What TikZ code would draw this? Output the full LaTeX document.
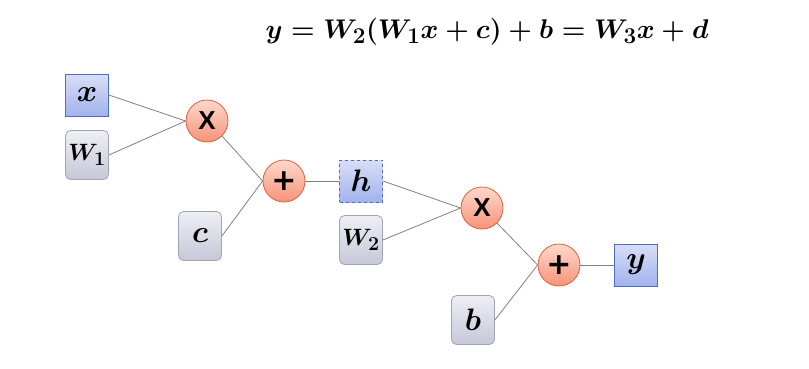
\documentclass[tikz,border=0pt]{standalone}
\usepackage{amsmath}
\usepackage{graphicx}
\usepackage{fontspec}
\newfontfamily\opfont{Liberation Sans}
\newfontfamily\plusfont{DejaVu Sans}
\definecolor{bluetop}{HTML}{D8DEF6}
\definecolor{bluebot}{HTML}{A2B3EC}
\definecolor{blueedge}{HTML}{4A6EC4}
\definecolor{greytop}{HTML}{EEEEF4}
\definecolor{greybot}{HTML}{C6C8D8}
\definecolor{greyedge}{HTML}{A0A4B8}
\definecolor{redtop}{HTML}{FDD8CC}
\definecolor{redbot}{HTML}{F6937A}
\definecolor{rededge}{HTML}{E0603A}
\definecolor{linkcol}{HTML}{808080}
\newcommand{\boxlbl}[2][1.25]{\scalebox{#1}{\boldmath\Huge$#2$}}
\tikzset{
  varbox/.style={draw=blueedge, line width=0.8pt, top color=bluetop, bottom color=bluebot,
    minimum width=43pt, minimum height=42pt, inner sep=0pt},
  parbox/.style={draw=greyedge, line width=0.8pt, top color=greytop, bottom color=greybot,
    rounded corners=5pt, minimum width=43pt, minimum height=49pt, inner sep=0pt},
  opnode/.style={circle, draw=rededge, line width=0.8pt, top color=redtop, bottom color=redbot,
    minimum size=42pt, inner sep=0pt, font=\opfont\bfseries\fontsize{26}{30}\selectfont},
  plusnode/.style={opnode, font=\plusfont\bfseries\fontsize{30}{34}\selectfont},
  link/.style={draw=linkcol, line width=0.8pt}
}
\begin{document}
\begin{tikzpicture}[x=1pt,y=-1pt]
\path[use as bounding box] (0,0) rectangle (809,368);
\node (eq) at (487,32) {\resizebox{443pt}{!}{\boldmath\Huge$y = W_2(W_1x + c) + b = W_3x + d$}};
\node[varbox] (x) at (87,95) {\boxlbl{x}};
\node[parbox] (W1) at (87,155) {\boxlbl[0.95]{W_1}};
\node[opnode] (m1) at (207,121) {X};
\node[plusnode] (a1) at (284,181) {+};
\node[parbox] (c) at (200,236) {\boxlbl{c}};
\node[varbox, dashed] (h) at (361,181) {\boxlbl{h}};
\node[parbox] (W2) at (361,240) {\boxlbl[0.95]{W_2}};
\node[opnode] (m2) at (482,208) {X};
\node[plusnode] (a2) at (559,265) {+};
\node[parbox] (b) at (473,320) {\boxlbl{b}};
\node[varbox] (y) at (636,265) {\boxlbl{y}};
\draw[link] (x.east) -- (m1.west);
\draw[link] (W1.east) -- (m1.west);
\draw[link] (m1.south east) -- (a1.west);
\draw[link] (c.east) -- (a1.west);
\draw[link] (a1.east) -- (h.west);
\draw[link] (h.east) -- (m2.west);
\draw[link] (W2.east) -- (m2.west);
\draw[link] (m2.south east) -- (a2.west);
\draw[link] (b.east) -- (a2.west);
\draw[link] (a2.east) -- (y.west);
\end{tikzpicture}
\end{document}
